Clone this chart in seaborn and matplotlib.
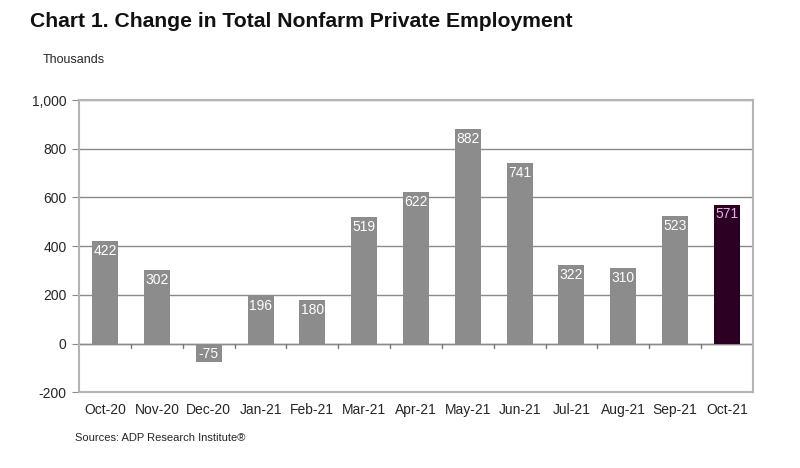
import numpy as np
import pandas as pd
import seaborn as sns
from matplotlib import pyplot as plt

months = ['Oct-20', 'Nov-20', 'Dec-20', 'Jan-21', 'Feb-21', 'Mar-21', 'Apr-21',
          'May-21', 'Jun-21', 'Jul-21', 'Aug-21', 'Sep-21', 'Oct-21']
change = [422, 302, -75, 196, 180, 519, 622, 882, 741, 322, 310, 523, 571]
y_ticks = [-200, 0, 200, 400, 600, 800, 1000]

sns.set_style('white')
plt.rcParams['font.family'] = ['Liberation Sans', 'DejaVu Sans']

df = pd.DataFrame({'month': months, 'change': change})
colors = ['#8c8c8c'] * (len(months) - 1) + ['#2b0022']

fig = plt.figure(figsize=(8, 4.68), dpi=100)
ax = fig.add_axes([0.099, 0.162, 0.842, 0.624])

sns.barplot(data=df, x='month', y='change', hue='month', palette=colors,
            legend=False, width=0.5, saturation=1, linewidth=0, ax=ax, zorder=3)

ax.set_ylim(-200, 1000)
ax.set_yticks(y_ticks)
ax.set_yticklabels([f'{v:,}' for v in y_ticks])
ax.set_xlim(-0.5, len(months) - 0.5)
ax.yaxis.grid(True, color='#8a8a8a', linewidth=1)
ax.set_axisbelow(True)
for s in ax.spines.values():
    s.set_color('#b4b4b4')
    s.set_linewidth(1.5)
ax.set_xlabel('')
ax.set_ylabel('')
ax.tick_params(axis='y', length=5, color='#8a8a8a', labelsize=10, pad=4, left=True)
ax.tick_params(axis='x', length=0, labelsize=10, pad=8)

# zero line with category separator ticks
ax.axhline(0, color='#8a8a8a', linewidth=1, zorder=2)
for i in range(len(months) - 1):
    ax.plot([i + 0.5, i + 0.5], [0, -18], color='#777777', linewidth=1, zorder=2)

for i, v in enumerate(change):
    c = '#e0b0e0' if i == len(change) - 1 else 'white'
    if v > 0:
        ax.text(i, v - 12, str(v), ha='center', va='top', color=c, fontsize=10, zorder=4)
    else:
        ax.text(i, v + 3, str(v), ha='center', va='bottom', color=c, fontsize=10, zorder=4)

fig.text(0.037, 0.955, 'Chart 1. Change in Total Nonfarm Private Employment',
         fontsize=15.2, fontweight='bold', ha='left', va='center', color='#111111')
fig.text(0.054, 0.872, 'Thousands', fontsize=9, ha='left', va='center')
fig.text(0.094, 0.064, 'Sources: ADP Research Institute®', fontsize=8, ha='left', va='center')

fig.savefig('out.png', dpi=100)
